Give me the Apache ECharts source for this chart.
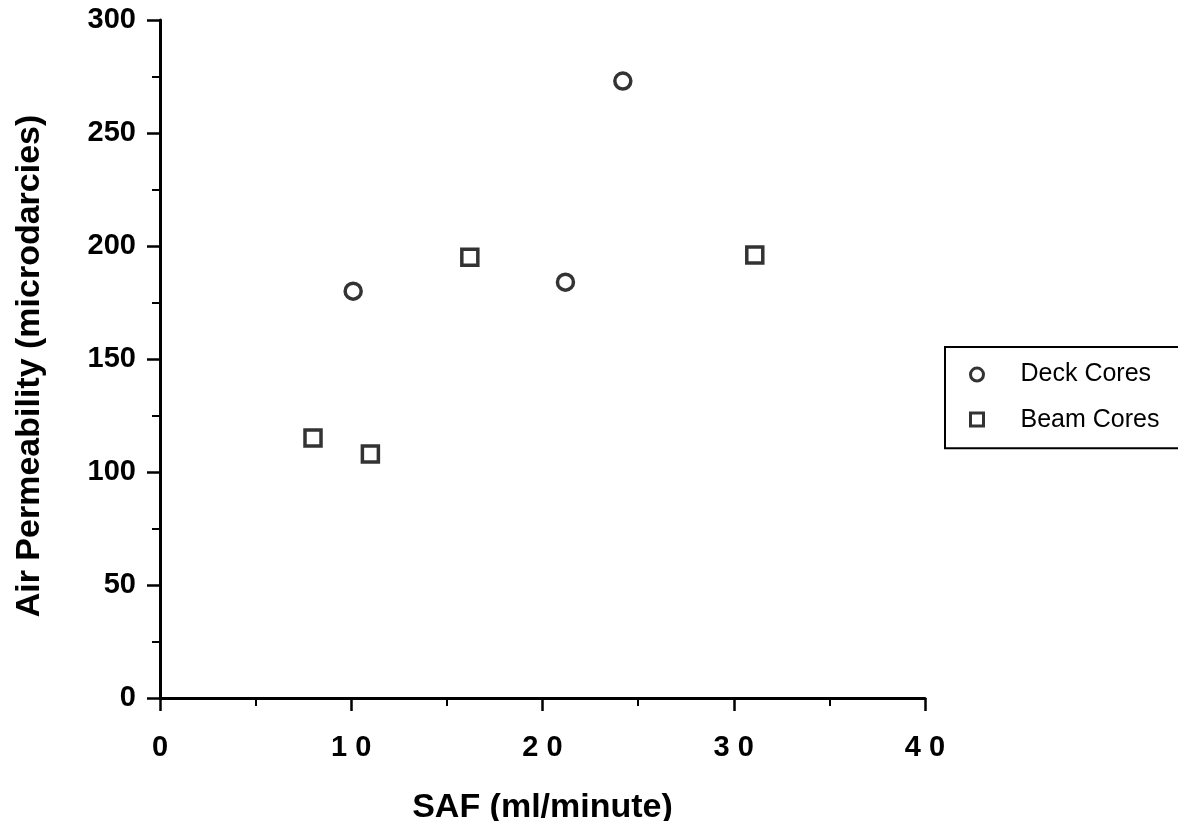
<!DOCTYPE html>
<html>
<head>
    <title>Air Permeability vs SAF</title>
    <script src="https://cdn.jsdelivr.net/npm/echarts@6/dist/echarts.min.js"></script>
</head>
<body style="margin:0;background:#fff;">
    <div id="chart" style="width: 1178px; height: 821px;"></div>
    <script>
        const deckSaf = [10.1, 21.2, 24.2];
        const deckPerm = [180, 184, 273];
        const beamSaf = [8.0, 11.0, 16.2, 31.1];
        const beamPerm = [115, 108, 195, 196];
        const seriesNames = ['Deck Cores', 'Beam Cores'];

        const font = '"Liberation Sans", Arial, sans-serif';

        function pairs(xs, ys) {
            return xs.map((x, i) => [x, ys[i]]);
        }

        const markerStyle = {
            color: '#fff',
            borderColor: '#000',
            borderWidth: 3.5
        };

        const option = {
            backgroundColor: '#fff',
            animation: false,
            grid: {
                left: 160,
                right: 253,
                top: 20,
                bottom: 123,
                containLabel: false,
                outerBoundsMode: 'none'
            },
            legend: {
                orient: 'vertical',
                left: 945,
                top: 347,
                data: seriesNames,
                backgroundColor: '#fff',
                borderColor: '#000',
                borderWidth: 2,
                borderRadius: 0,
                padding: [6, 20, 7, 24],
                itemGap: 2,
                itemWidth: 13,
                itemHeight: 13,
                itemStyle: { borderWidth: 3 },
                textStyle: {
                    fontFamily: font,
                    fontSize: 25,
                    lineHeight: 26,
                    color: '#000',
                    padding: [0, 0, 0, 32]
                }
            },
            xAxis: {
                type: 'value',
                min: 0,
                max: 40,
                interval: 10,
                name: 'SAF (ml/minute)',
                nameLocation: 'middle',
                nameGap: 72,
                nameTextStyle: {
                    fontFamily: font,
                    fontSize: 34,
                    fontWeight: 'bold',
                    color: '#000'
                },
                axisLine: { lineStyle: { color: '#000', width: 3 } },
                axisTick: { length: 13, lineStyle: { color: '#000', width: 2.5 } },
                minorTick: { show: true, splitNumber: 2, length: 8, lineStyle: { color: '#000', width: 2 } },
                splitLine: { show: false },
                axisLabel: {
                    margin: 25,
                    fontFamily: font,
                    fontSize: 29,
                    fontWeight: 'bold',
                    color: '#000',
                    formatter: v => String(v).split('').join(' ')
                }
            },
            yAxis: {
                type: 'value',
                min: 0,
                max: 300,
                interval: 50,
                name: 'Air Permeability (microdarcies)',
                nameLocation: 'middle',
                nameGap: 101,
                nameTextStyle: {
                    fontFamily: font,
                    fontSize: 34,
                    fontWeight: 'bold',
                    color: '#000',
                    padding: [0, 14, 0, 0]
                },
                axisLine: { lineStyle: { color: '#000', width: 3 } },
                axisTick: { length: 13, lineStyle: { color: '#000', width: 2.5 } },
                minorTick: { show: true, splitNumber: 2, length: 8, lineStyle: { color: '#000', width: 2 } },
                splitLine: { show: false },
                axisLabel: {
                    margin: 24,
                    fontFamily: font,
                    fontSize: 29,
                    fontWeight: 'bold',
                    color: '#000'
                }
            },
            series: [
                {
                    name: seriesNames[0],
                    type: 'scatter',
                    symbol: 'circle',
                    symbolSize: 16,
                    itemStyle: markerStyle,
                    data: pairs(deckSaf, deckPerm)
                },
                {
                    name: seriesNames[1],
                    type: 'scatter',
                    symbol: 'rect',
                    symbolSize: 16,
                    itemStyle: markerStyle,
                    data: pairs(beamSaf, beamPerm)
                }
            ]
        };

        const myChart = echarts.init(document.getElementById('chart'));
        myChart.setOption(option);
    </script>
</body>
</html>
